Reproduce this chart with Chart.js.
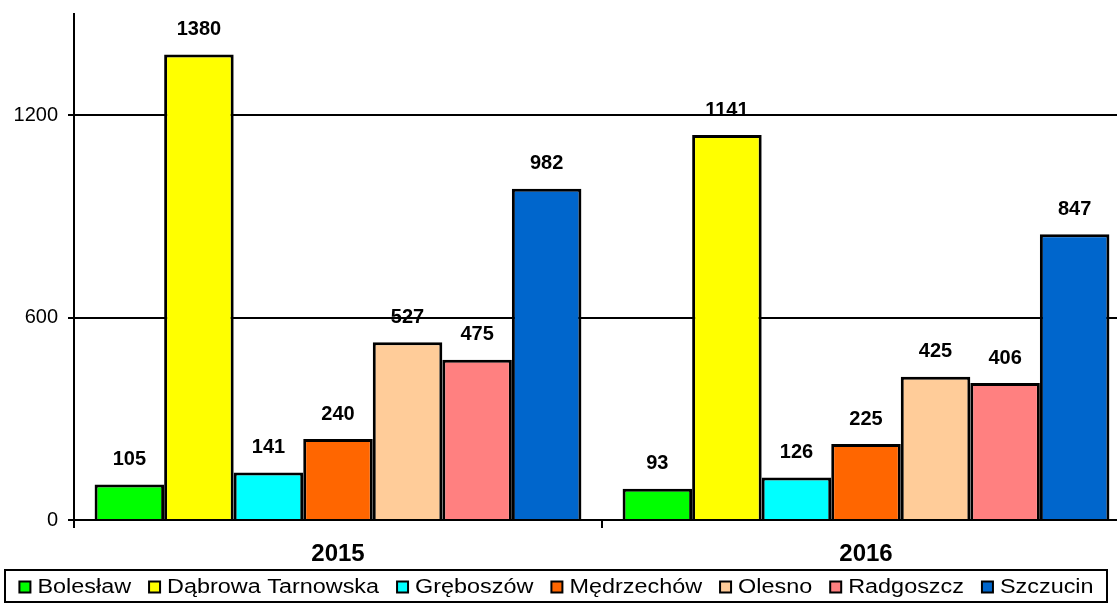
<!DOCTYPE html>
<html>
<head>
<meta charset="utf-8">
<script src="https://cdn.jsdelivr.net/npm/chart.js@4.4.0/dist/chart.umd.min.js"></script>
<style>
  html, body { margin: 0; padding: 0; background: #fff; overflow: hidden; }
  #wrap { position: relative; width: 1130px; height: 607px; }
</style>
</head>
<body>
<div id="wrap"><canvas id="chart"></canvas></div>
<script>
var years = ['2015', '2016'];
var towns = ['Bolesław', 'Dąbrowa Tarnowska', 'Gręboszów', 'Mędrzechów', 'Olesno', 'Radgoszcz', 'Szczucin'];
var boleslaw = [105, 93];
var dabrowa = [1380, 1141];
var greboszow = [141, 126];
var medrzechow = [240, 225];
var olesno = [527, 425];
var radgoszcz = [475, 406];
var szczucin = [982, 847];
var yTicks = [0, 600, 1200];
var colors = ['#00FF00', '#FFFF00', '#00FFFF', '#FF6600', '#FFCC99', '#FF8080', '#0066CC'];

var series = [boleslaw, dabrowa, greboszow, medrzechow, olesno, radgoszcz, szczucin];
var datasets = series.map(function (values, i) {
  return {
    label: towns[i],
    data: values,
    backgroundColor: colors[i],
    borderColor: '#000',
    borderWidth: 3,
    categoryPercentage: 0.922,
    barPercentage: 1.0
  };
});

// value labels above the bars
var valueLabels = {
  id: 'valueLabels',
  afterDatasetsDraw: function (chart) {
    var ctx = chart.ctx;
    ctx.save();
    ctx.font = 'bold 20px Arial, "Liberation Sans", sans-serif';
    ctx.fillStyle = '#000';
    ctx.textAlign = 'center';
    ctx.textBaseline = 'middle';
    chart.data.datasets.forEach(function (ds, i) {
      chart.getDatasetMeta(i).data.forEach(function (bar, j) {
        ctx.fillText(String(ds.data[j]), bar.x, bar.y - 25);
      });
    });
    ctx.restore();
  }
};

// boxed legend along the bottom, like the spreadsheet one
var boxLegend = {
  id: 'boxLegend',
  afterDraw: function (chart) {
    var ctx = chart.ctx;
    var left = 5, right = 1107, top = 570, bottom = 602;
    var stretch = 1.17, sq = 13, gapText = 6, gapItem = 17;
    ctx.save();
    ctx.lineWidth = 2;
    ctx.strokeStyle = '#000';
    ctx.strokeRect(left, top, right - left, bottom - top);
    ctx.font = '20px Arial, "Liberation Sans", sans-serif';
    var widths = chart.data.datasets.map(function (ds) {
      return ctx.measureText(ds.label).width * stretch;
    });
    var total = 0;
    widths.forEach(function (w) { total += sq + gapText + w; });
    total += gapItem * (widths.length - 1);
    var x = (left + right) / 2 - total / 2;
    var cy = (top + bottom) / 2 + 1;
    chart.data.datasets.forEach(function (ds, i) {
      ctx.fillStyle = ds.backgroundColor;
      ctx.fillRect(x + 1, cy - sq / 2 + 1, sq - 2, sq - 2);
      ctx.strokeRect(x + 1, cy - sq / 2 + 1, sq - 2, sq - 2);
      x += sq + gapText;
      ctx.save();
      ctx.translate(x, cy);
      ctx.scale(stretch, 1);
      ctx.fillStyle = '#000';
      ctx.textAlign = 'left';
      ctx.textBaseline = 'middle';
      ctx.fillText(ds.label, 0, 0);
      ctx.restore();
      x += widths[i] + gapItem;
    });
    ctx.restore();
  }
};

var chart = new Chart(document.getElementById('chart'), {
  type: 'bar',
  data: { labels: years, datasets: datasets },
  plugins: [valueLabels, boxLegend],
  options: {
    responsive: true,
    maintainAspectRatio: false,
    animation: false,
    layout: { padding: { top: 14, left: 0, right: 0, bottom: 0 } },
    plugins: {
      legend: { display: false },
      tooltip: { enabled: false }
    },
    scales: {
      x: {
        offset: true,
        afterFit: function (s) { s.height = 87; s.paddingLeft = 0; s.paddingRight = 0; },
        grid: {
          offset: true,
          drawOnChartArea: false,
          tickLength: 8,
          color: '#000',
          lineWidth: 2
        },
        border: { color: '#000', width: 2 },
        ticks: {
          color: '#000',
          padding: 12,
          font: { family: 'Arial, "Liberation Sans", sans-serif', size: 24, weight: 'bold' }
        }
      },
      y: {
        min: 0,
        max: 1500,
        afterFit: function (s) { s.width = 74; s.paddingTop = 0; s.paddingBottom = 0; },
        afterBuildTicks: function (s) {
          s.ticks = yTicks.map(function (v) { return { value: v }; });
        },
        grid: { color: '#000', lineWidth: 2, tickLength: 6 },
        border: { color: '#000', width: 2 },
        ticks: {
          color: '#000',
          padding: 10,
          callback: function (v) { return String(v); },
          font: { family: 'Arial, "Liberation Sans", sans-serif', size: 20 }
        }
      }
    }
  }
});
</script>
</body>
</html>
